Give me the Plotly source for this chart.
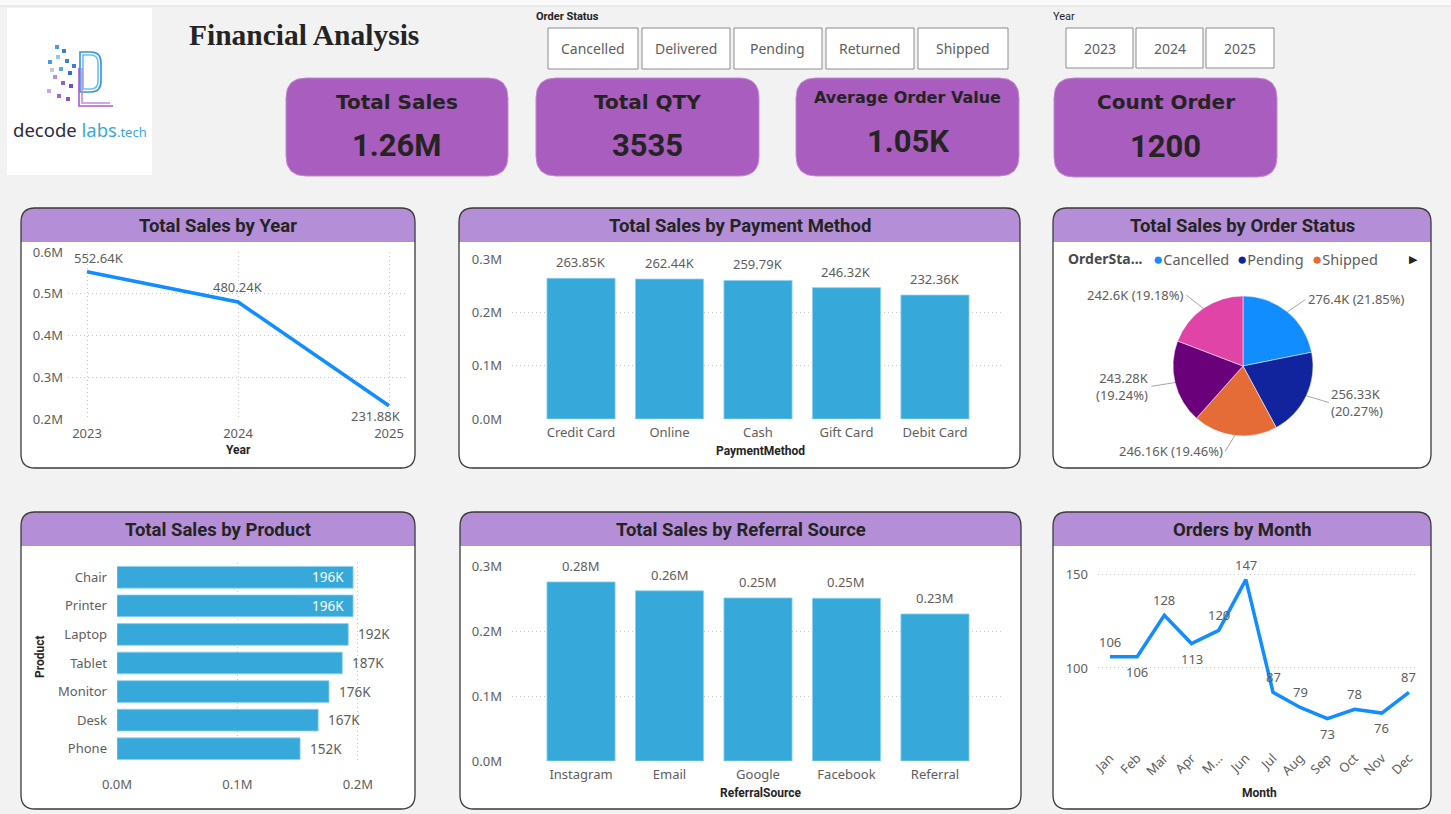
import math
import plotly.graph_objects as go

W, H = 1451, 814


def X(px):
    return px / W


def Y(py):
    return 1 - py / H


# ---------------- DATA ----------------
kpi_titles = ["Total Sales", "Total QTY", "Average Order Value", "Count Order"]
kpi_values = ["1.26M", "3535", "1.05K", "1200"]
order_status_options = ["Cancelled", "Delivered", "Pending", "Returned", "Shipped"]
year_options = ["2023", "2024", "2025"]

years = [2023, 2024, 2025]
year_sales = [552640, 480240, 231880]
year_ticks = [200000, 300000, 400000, 500000, 600000]

payment_methods = ["Credit Card", "Online", "Cash", "Gift Card", "Debit Card"]
payment_sales = [263850, 262440, 259790, 246320, 232360]

order_status = ["Cancelled", "Pending", "Shipped", "Delivered", "Returned"]
status_sales = [276400, 256330, 246160, 243280, 242600]

products = ["Chair", "Printer", "Laptop", "Tablet", "Monitor", "Desk", "Phone"]
product_sales = [196000, 196000, 192000, 187000, 176000, 167000, 152000]
product_ticks = [0, 100000, 200000]

referral_sources = ["Instagram", "Email", "Google", "Facebook", "Referral"]
referral_sales = [275500, 261800, 250900, 250400, 226200]

bar_ticks = [0, 100000, 200000, 300000]

months = ["Jan", "Feb", "Mar", "Apr", "May", "Jun", "Jul", "Aug", "Sep", "Oct", "Nov", "Dec"]
month_tick_labels = ["Jan", "Feb", "Mar", "Apr", "M...", "Jun", "Jul", "Aug", "Sep", "Oct", "Nov", "Dec"]
month_orders = [106, 106, 128, 113, 120, 147, 87, 79, 73, 78, 76, 87]
month_ticks = [100, 150]

# ---------------- STYLE ----------------
BAR = "#36a9da"
LINE = "#118DFF"
PIE_COLORS = ["#118DFF", "#12239E", "#E66C37", "#6B007B", "#E044A7"]
GRAY = "#605e5c"
DARK = "#252423"
HEADER = "#b48fd8"
CARD = "#a95dbf"
SANS = "Noto Sans, Open Sans, sans-serif"
TITLEF = "Roboto, Noto Sans, sans-serif"
KPIF = "DejaVu Sans, Liberation Sans, sans-serif"
GRID = "#c6c6c6"
GDASH = "1px,3px"

year_label_shift = [(12, 14), (0, 15), (-13, -10)]
month_label_up = [True, False, True, False, True, True, True, True, False, True, False, True]


def rr(x0, y0, x1, y1, r, rt=True, rb=True):
    f = lambda a, b: f"{X(a):.5f},{Y(b):.5f}"
    if rt:
        s = f"M{f(x0, y0 + r)} Q{f(x0, y0)} {f(x0 + r, y0)} L{f(x1 - r, y0)} Q{f(x1, y0)} {f(x1, y0 + r)}"
    else:
        s = f"M{f(x0, y0)} L{f(x1, y0)}"
    if rb:
        s += f" L{f(x1, y1 - r)} Q{f(x1, y1)} {f(x1 - r, y1)} L{f(x0 + r, y1)} Q{f(x0, y1)} {f(x0, y1 - r)} Z"
    else:
        s += f" L{f(x1, y1)} L{f(x0, y1)} Z"
    return s


shapes = []
annotations = []


def text(x, y, t, size=13, color=GRAY, family=SANS, xanchor="center", yanchor="middle", **kw):
    annotations.append(dict(x=X(x), y=Y(y), xref="paper", yref="paper", text=t, showarrow=False,
                            xanchor=xanchor, yanchor=yanchor,
                            font=dict(size=size, color=color, family=family), **kw))


def dlabel(xr, yr, x, y, t, xshift=0, yshift=0, color=GRAY, xanchor="center", size=13):
    annotations.append(dict(xref=xr, yref=yr, x=x, y=y, text=t, showarrow=False, xshift=xshift, yshift=yshift,
                            xanchor=xanchor, yanchor="middle", font=dict(size=size, color=color, family=SANS)))


# top ribbon remnant
shapes.append(dict(type="rect", xref="paper", yref="paper", x0=0, x1=1, y0=Y(5), y1=1,
                   fillcolor="#fafafa", line=dict(width=0), layer="below"))
shapes.append(dict(type="line", xref="paper", yref="paper", x0=0, x1=1, y0=Y(6), y1=Y(6),
                   line=dict(color="#e2e2e2", width=1), layer="below"))

# logo
shapes.append(dict(type="rect", xref="paper", yref="paper", x0=X(7), x1=X(152), y0=Y(175), y1=Y(8),
                   fillcolor="white", line=dict(width=0), layer="below"))
for off, col in [(0, "#3b8fe0"), (3, "#67c3f0")]:
    p = (f"M{X(80+off):.5f},{Y(52+off):.5f} L{X(91):.5f},{Y(52+off):.5f} Q{X(101-off):.5f},{Y(52+off):.5f} "
         f"{X(101-off):.5f},{Y(63):.5f} L{X(101-off):.5f},{Y(81):.5f} Q{X(101-off):.5f},{Y(92-off):.5f} "
         f"{X(91):.5f},{Y(92-off):.5f} L{X(80+off):.5f},{Y(92-off):.5f} Z")
    shapes.append(dict(type="path", xref="paper", yref="paper", path=p, line=dict(color=col, width=1.6)))
for off, col in [(0, "#a55ad6"), (3, "#c08ae6")]:
    p = (f"M{X(79+off):.5f},{Y(68):.5f} L{X(79+off):.5f},{Y(106-off):.5f} L{X(113-off):.5f},{Y(106-off):.5f}")
    shapes.append(dict(type="path", xref="paper", yref="paper", path=p, line=dict(color=col, width=1.6)))
dots = [(57, 47, "#4a9be6"), (64, 51, "#3d7fd8"), (58, 57, "#8fc9f2"), (50, 62, "#4a9be6"), (67, 61, "#3d7fd8"),
        (61, 69, "#5aa8ea"), (70, 73, "#2f6fd0"), (55, 77, "#b58ee0"), (63, 83, "#9a5fd0"), (71, 86, "#7a4bc8"),
        (49, 91, "#c6a8ea"), (59, 96, "#a066d4"), (68, 99, "#8b55cc"), (74, 66, "#3d7fd8"), (52, 70, "#c9c9d6")]
for (dx, dy, dc) in dots:
    shapes.append(dict(type="rect", xref="paper", yref="paper", x0=X(dx - 2), x1=X(dx + 2), y0=Y(dy + 2),
                       y1=Y(dy - 2), fillcolor=dc, line=dict(width=0)))
text(80, 129, "decode <span style='color:#3aa6dd'>labs</span><span style='color:#3aa6dd;font-size:13px'>.tech</span>",
     size=18.5, color="#2d2a3e", family="Noto Sans, sans-serif")

# title
text(304, 35, "<b>Financial Analysis</b>", size=29.5, color=DARK, family="Liberation Serif, Times New Roman, serif")

# slicers
text(534, 17, "<b>Order Status</b>", size=11, color=DARK, family=TITLEF, xanchor="left")
os_boxes = [(548, 638), (642, 730), (734, 822), (826, 914), (918, 1008)]
for (x0, x1), lab in zip(os_boxes, order_status_options):
    shapes.append(dict(type="rect", xref="paper", yref="paper", x0=X(x0), x1=X(x1), y0=Y(69), y1=Y(28),
                       fillcolor="white", line=dict(color="#8c8c8c", width=1), layer="below"))
    text((x0 + x1) / 2, 49, lab, size=14)
text(1051, 17, "Year", size=11, color=DARK, family=TITLEF, xanchor="left")
yr_boxes = [(1066, 1133), (1136, 1203), (1206, 1274)]
for (x0, x1), lab in zip(yr_boxes, year_options):
    shapes.append(dict(type="rect", xref="paper", yref="paper", x0=X(x0), x1=X(x1), y0=Y(68), y1=Y(28),
                       fillcolor="white", line=dict(color="#8c8c8c", width=1), layer="below"))
    text((x0 + x1) / 2, 48, lab, size=14)

# KPI cards
cards = [(286, 78, 508, 176), (536, 78, 759, 176), (796, 78, 1019, 176), (1054, 78, 1277, 177)]
title_y = [102, 102, 97, 102]
title_sz = [20, 20, 16, 20]
value_y = [145, 145, 141, 146]
for i, (x0, y0, x1, y1) in enumerate(cards):
    shapes.append(dict(type="path", xref="paper", yref="paper", path=rr(x0, y0, x1, y1, 20),
                       fillcolor=CARD, line=dict(color="#c08ad2", width=1), layer="below"))
    cx = (x0 + x1) / 2
    text(cx, title_y[i], f"<b>{kpi_titles[i]}</b>", size=title_sz[i], color=DARK, family=KPIF)
    text(cx, value_y[i], f"<b>{kpi_values[i]}</b>", size=31, color=DARK, family=TITLEF)

# chart panels
panels = [(21, 208, 415, 468, "Total Sales by Year"),
          (459, 208, 1020, 468, "Total Sales by Payment Method"),
          (1053, 208, 1431, 468, "Total Sales by Order Status"),
          (21, 512, 415, 809, "Total Sales by Product"),
          (460, 512, 1021, 809, "Total Sales by Referral Source"),
          (1053, 512, 1431, 809, "Orders by Month")]
for (x0, y0, x1, y1, t) in panels:
    shapes.append(dict(type="path", xref="paper", yref="paper", path=rr(x0, y0, x1, y1, 14),
                       fillcolor="white", line=dict(width=0), layer="below"))
    shapes.append(dict(type="path", xref="paper", yref="paper", path=rr(x0, y0, x1, y0 + 34, 14, rb=False),
                       fillcolor=HEADER, line=dict(width=0), layer="below"))
    shapes.append(dict(type="path", xref="paper", yref="paper", path=rr(x0, y0, x1, y1, 14),
                       fillcolor="rgba(0,0,0,0)", line=dict(color="#3a3a3a", width=1.3), layer="below"))
    text((x0 + x1) / 2, y0 + 18, f"<b>{t}</b>", size=18.5, color=DARK, family=TITLEF)

# axis titles
text(238, 450, "<b>Year</b>", size=12, color=DARK, family=TITLEF)
text(760, 451, "<b>PaymentMethod</b>", size=12, color=DARK, family=TITLEF)
text(40, 657, "<b>Product</b>", size=12, color=DARK, family=TITLEF, textangle=-90)
text(760, 793, "<b>ReferralSource</b>", size=12, color=DARK, family=TITLEF)
text(1259, 793, "<b>Month</b>", size=12, color=DARK, family=TITLEF)

fig = go.Figure()

# ---- chart 1: sales by year
fig.add_trace(go.Scatter(x=years, y=year_sales, mode="lines", xaxis="x", yaxis="y",
                         line=dict(color=LINE, width=3.5), hoverinfo="skip"))
for (yx, yv), (xs, ys) in zip(zip(years, year_sales), year_label_shift):
    dlabel("x", "y", yx, yv, f"{yv/1000:.2f}K", xshift=xs, yshift=ys)

# ---- chart 2: payment method
fig.add_trace(go.Bar(x=payment_methods, y=payment_sales, xaxis="x2", yaxis="y2", width=0.77,
                     marker=dict(color=BAR, line=dict(color="#8fd0ee", width=0.8))))
for cat, v in zip(payment_methods, payment_sales):
    dlabel("x2", "y2", cat, v, f"{v/1000:.2f}K", yshift=16)

# ---- chart 3: pie by status
pcx, pcy, pr = 1243, 366, 70
fig.add_trace(go.Pie(labels=order_status, values=status_sales, sort=False, direction="clockwise", rotation=0,
                     marker=dict(colors=PIE_COLORS, line=dict(color="white", width=0.5)), textinfo="none",
                     domain=dict(x=[X(pcx - pr), X(pcx + pr)], y=[Y(pcy + pr), Y(pcy - pr)])))
total = sum(status_sales)
cum = 0.0
for v in status_sales:
    frac = v / total
    mid = (cum + frac / 2) * 2 * math.pi
    cum += frac
    s, c = math.sin(mid), math.cos(mid)
    ex, ey = pcx + pr * s, pcy - pr * c
    lab = f"{v/1000:g}K" + ("<br>" if abs(s) > 0.85 else " ") + f"({frac*100:.2f}%)"
    annotations.append(dict(x=X(ex), y=Y(ey), xref="paper", yref="paper", text=lab, showarrow=True,
                            ax=16 * s + (8 if s > 0 else -8), ay=-16 * c, arrowhead=0, arrowwidth=1,
                            arrowcolor="#a6a6a6", standoff=0, xanchor="left" if s > 0 else "right",
                            align="left" if s > 0 else "right", font=dict(size=13, color=GRAY, family=SANS)))
text(1066, 259, "<b>OrderSta...</b>", size=14, color="#4a4a4a", xanchor="left")
legend_x = [1151, 1235, 1310]
for lx, n, c in zip(legend_x, order_status[:3], PIE_COLORS[:3]):
    text(lx, 259, f"<span style='color:{c};font-size:17px'>●</span>{n}", size=14.5, color=GRAY, xanchor="left")
text(1413, 258, "▶", size=11, color=DARK)

# ---- chart 4: product
fig.add_trace(go.Bar(x=product_sales, y=products, orientation="h", xaxis="x3", yaxis="y3", width=0.76,
                     marker=dict(color=BAR, line=dict(color="#8fd0ee", width=0.8))))
for cat, v in zip(products, product_sales):
    inside = v >= max(product_sales) * 0.99
    dlabel("x3", "y3", v, cat, f"{v/1000:.0f}K", xshift=-7 if inside else 8,
           xanchor="right" if inside else "left", color="white" if inside else GRAY, size=13.5)

# ---- chart 5: referral
fig.add_trace(go.Bar(x=referral_sources, y=referral_sales, xaxis="x4", yaxis="y4", width=0.77,
                     marker=dict(color=BAR, line=dict(color="#8fd0ee", width=0.8))))
for cat, v in zip(referral_sources, referral_sales):
    dlabel("x4", "y4", cat, v, f"{v/1e6:.2f}M", yshift=16)

# ---- chart 6: orders by month
fig.add_trace(go.Scatter(x=months, y=month_orders, mode="lines", xaxis="x5", yaxis="y5",
                         line=dict(color=LINE, width=3.5)))
for m, v, up in zip(months, month_orders, month_label_up):
    dlabel("x5", "y5", m, v, str(v), yshift=15 if up else -15)

ax_common = dict(showline=False, zeroline=False, ticks="", tickfont=dict(size=13, color=GRAY, family=SANS),
                 gridcolor=GRID, griddash=GDASH, gridwidth=1, fixedrange=True, automargin=False)

cat_pad = 0.78
fig.update_layout(
    width=W, height=H, margin=dict(l=0, r=0, t=0, b=0, pad=0, autoexpand=False), paper_bgcolor="#f2f2f2",
    plot_bgcolor="rgba(0,0,0,0)", showlegend=False, font=dict(family=SANS, color=GRAY, size=13),
    xaxis=dict(ax_common, domain=[X(68), X(408)], range=[2023 - 19 / 151, 2025 + 19 / 151], anchor="y",
               tickvals=years, ticktext=[str(y) for y in years], showgrid=True, ticklabelstandoff=5),
    yaxis=dict(ax_common, domain=[Y(419), Y(252)], range=[200000, 600000], anchor="x",
               tickvals=year_ticks, ticktext=[f"{v/1e6:.1f}M" for v in year_ticks], showgrid=True,
               ticklabelstandoff=4),
    xaxis2=dict(ax_common, domain=[X(512), X(1004)], range=[-cat_pad, 4 + cat_pad], anchor="y2",
                type="category", showgrid=False, ticklabelstandoff=4),
    yaxis2=dict(ax_common, domain=[Y(419), Y(259)], range=[0, 300000], anchor="x2",
                tickvals=bar_ticks, ticktext=[f"{v/1e6:.1f}M" for v in bar_ticks], showgrid=True,
                ticklabelstandoff=9),
    xaxis3=dict(ax_common, domain=[X(117), X(382)], range=[0, 220000], anchor="y3",
                tickvals=product_ticks, ticktext=[f"{v/1e6:.1f}M" for v in product_ticks], showgrid=True,
                ticklabelstandoff=12),
    yaxis3=dict(ax_common, domain=[Y(763), Y(563)], range=[6.5, -0.5], anchor="x3", type="category",
                showgrid=False, ticklabelstandoff=9),
    xaxis4=dict(ax_common, domain=[X(512), X(1004)], range=[-cat_pad, 4 + cat_pad], anchor="y4",
                type="category", showgrid=False, ticklabelstandoff=4),
    yaxis4=dict(ax_common, domain=[Y(761), Y(566)], range=[0, 300000], anchor="x4",
                tickvals=bar_ticks, ticktext=[f"{v/1e6:.1f}M" for v in bar_ticks], showgrid=True,
                ticklabelstandoff=9),
    xaxis5=dict(ax_common, domain=[X(1098), X(1416)], range=[-0.44, 11.26], anchor="y5", type="category",
                tickvals=months, ticktext=month_tick_labels, tickangle=-45, showgrid=False,
                ticklabelstandoff=2),
    yaxis5=dict(ax_common, domain=[Y(745), Y(560)], range=[59.0, 157.45], anchor="x5",
                tickvals=month_ticks, ticktext=[str(v) for v in month_ticks], showgrid=True,
                ticklabelstandoff=9),
    shapes=shapes, annotations=annotations,
)

fig.write_html("out.html")
